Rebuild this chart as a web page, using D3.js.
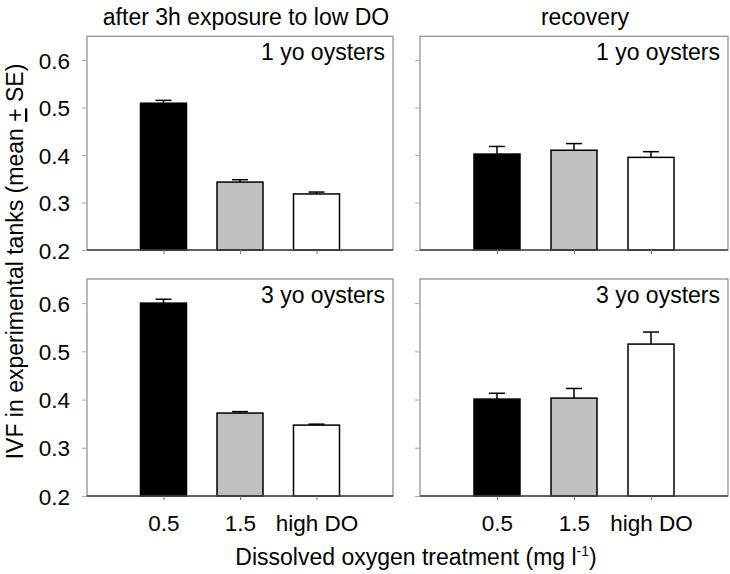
<!DOCTYPE html>
<html><head><meta charset="utf-8">
<script src="https://cdn.jsdelivr.net/npm/d3@7"></script>
<style>
body{margin:0;background:#fff}
svg text{font-family:"Liberation Sans",Arial,sans-serif;fill:#000}
</style></head>
<body><svg id="c" width="730" height="574"></svg>
<script>
// ---- data ----
const categories = ["0.5", "1.5", "high DO"];
const yTicks = [0.2, 0.3, 0.4, 0.5, 0.6];
const yDomain = [0.2, 0.65];
const columnTitles = ["after 3h exposure to low DO", "recovery"];
const rowLabels = ["1 yo oysters", "3 yo oysters"];
const barColors = ["#000000", "#c0c0c0", "#ffffff"];
// means (mean) and standard errors (SE)
const exposure1yoMean = [0.509, 0.343, 0.318];
const exposure1yoSE   = [0.006, 0.005, 0.004];
const recovery1yoMean = [0.402, 0.410, 0.395];
const recovery1yoSE   = [0.016, 0.014, 0.012];
const exposure3yoMean = [0.600, 0.372, 0.347];
const exposure3yoSE   = [0.008, 0.003, 0.002];
const recovery3yoMean = [0.401, 0.403, 0.515];
const recovery3yoSE   = [0.012, 0.020, 0.025];
const xTitle = "Dissolved oxygen treatment (mg l";
const yTitle = ["IVF in experimental tanks (mean ", "+", " SE)"];

// ---- layout ----
const svg = d3.select("#c");
const colX = [[87, 393], [420, 728]];
const rowY = [[250, 36.25], [496, 279]];
const panels = [
  {r:0, c:0, mean: exposure1yoMean, se: exposure1yoSE},
  {r:0, c:1, mean: recovery1yoMean, se: recovery1yoSE},
  {r:1, c:0, mean: exposure3yoMean, se: exposure3yoSE},
  {r:1, c:1, mean: recovery3yoMean, se: recovery3yoSE}
];

panels.forEach(p => {
  const x = d3.scalePoint().domain(categories).range(colX[p.c]).padding(1);
  const y = d3.scaleLinear().domain(yDomain).range(rowY[p.r]);
  const g = svg.append("g");
  const x0 = colX[p.c][0], x1 = colX[p.c][1];
  const yb = rowY[p.r][0], yt = rowY[p.r][1];
  // frame
  g.append("rect").attr("x", x0).attr("y", yt).attr("width", x1 - x0).attr("height", yb - yt)
    .attr("fill", "none").attr("stroke", "#8a8a8a").attr("stroke-width", 1.2);
  // y axis
  const ya = d3.axisLeft(y).tickValues(yTicks).tickSize(5).tickPadding(12)
    .tickFormat(p.c === 0 ? d3.format(".1f") : () => "");
  const yg = g.append("g").attr("transform", `translate(${x0},0)`).call(ya);
  yg.select(".domain").remove();
  yg.selectAll(".tick line").attr("stroke", "#aaa");
  yg.selectAll(".tick text").attr("font-size", 22.5).attr("dy", "0.36em")
    .style("font-family", "'Liberation Sans',Arial,sans-serif").attr("fill", "#000");
  // bars
  const bw = 46;
  const data = categories.map((k, i) => ({k, m: p.mean[i], s: p.se[i], col: barColors[i]}));
  // error bars (upper only)
  g.selectAll(".err").data(data).enter().append("line")
    .attr("x1", d => x(d.k)).attr("x2", d => x(d.k))
    .attr("y1", d => y(d.m)).attr("y2", d => y(d.m + d.s))
    .attr("stroke", "#000").attr("stroke-width", 1.5);
  g.selectAll(".cap").data(data).enter().append("line")
    .attr("x1", d => x(d.k) - 8).attr("x2", d => x(d.k) + 8)
    .attr("y1", d => y(d.m + d.s)).attr("y2", d => y(d.m + d.s))
    .attr("stroke", "#000").attr("stroke-width", 1.5);
  g.selectAll(".bar").data(data).enter().append("rect")
    .attr("x", d => x(d.k) - bw / 2).attr("width", bw)
    .attr("y", d => y(d.m)).attr("height", d => y(yDomain[0]) - y(d.m))
    .attr("fill", d => d.col).attr("stroke", "#000").attr("stroke-width", 1.5);
  // x axis
  const xa = d3.axisBottom(x).tickSize(4).tickPadding(15)
    .tickFormat(p.r === 1 ? (d => d) : () => "");
  const xg = g.append("g").attr("transform", `translate(0,${yb})`).call(xa);
  xg.select(".domain").attr("stroke", "#444").attr("stroke-width", 1.3)
    .attr("d", `M${x0},0H${x1}`);
  xg.selectAll(".tick line").attr("stroke", "#777");
  xg.selectAll(".tick text").attr("font-size", 22.5)
    .style("font-family", "'Liberation Sans',Arial,sans-serif").attr("fill", "#000");
  // panel label
  g.append("text").attr("x", x1 - 8).attr("y", yt + 24).attr("text-anchor", "end")
    .attr("font-size", 23).text(rowLabels[p.r]);
});

// column titles
svg.append("text").attr("x", 246).attr("y", 25).attr("text-anchor", "middle")
  .attr("font-size", 23).text(columnTitles[0]);
svg.append("text").attr("x", 585).attr("y", 25).attr("text-anchor", "middle")
  .attr("font-size", 23).text(columnTitles[1]);

// x title with superscript
const xt = svg.append("text").attr("x", 416).attr("y", 565).attr("text-anchor", "middle")
  .attr("font-size", 23);
xt.append("tspan").text(xTitle);
xt.append("tspan").attr("font-size", 14).attr("dy", -9).text("-1");
xt.append("tspan").attr("dy", 9).text(")");

// y title
const yt = svg.append("text").attr("transform", "translate(23,261.5) rotate(-90)")
  .attr("text-anchor", "middle").attr("font-size", 23);
yt.append("tspan").text(yTitle[0]);
yt.append("tspan").style("text-decoration", "underline").text(yTitle[1]);
yt.append("tspan").text(yTitle[2]);
</script></body></html>
